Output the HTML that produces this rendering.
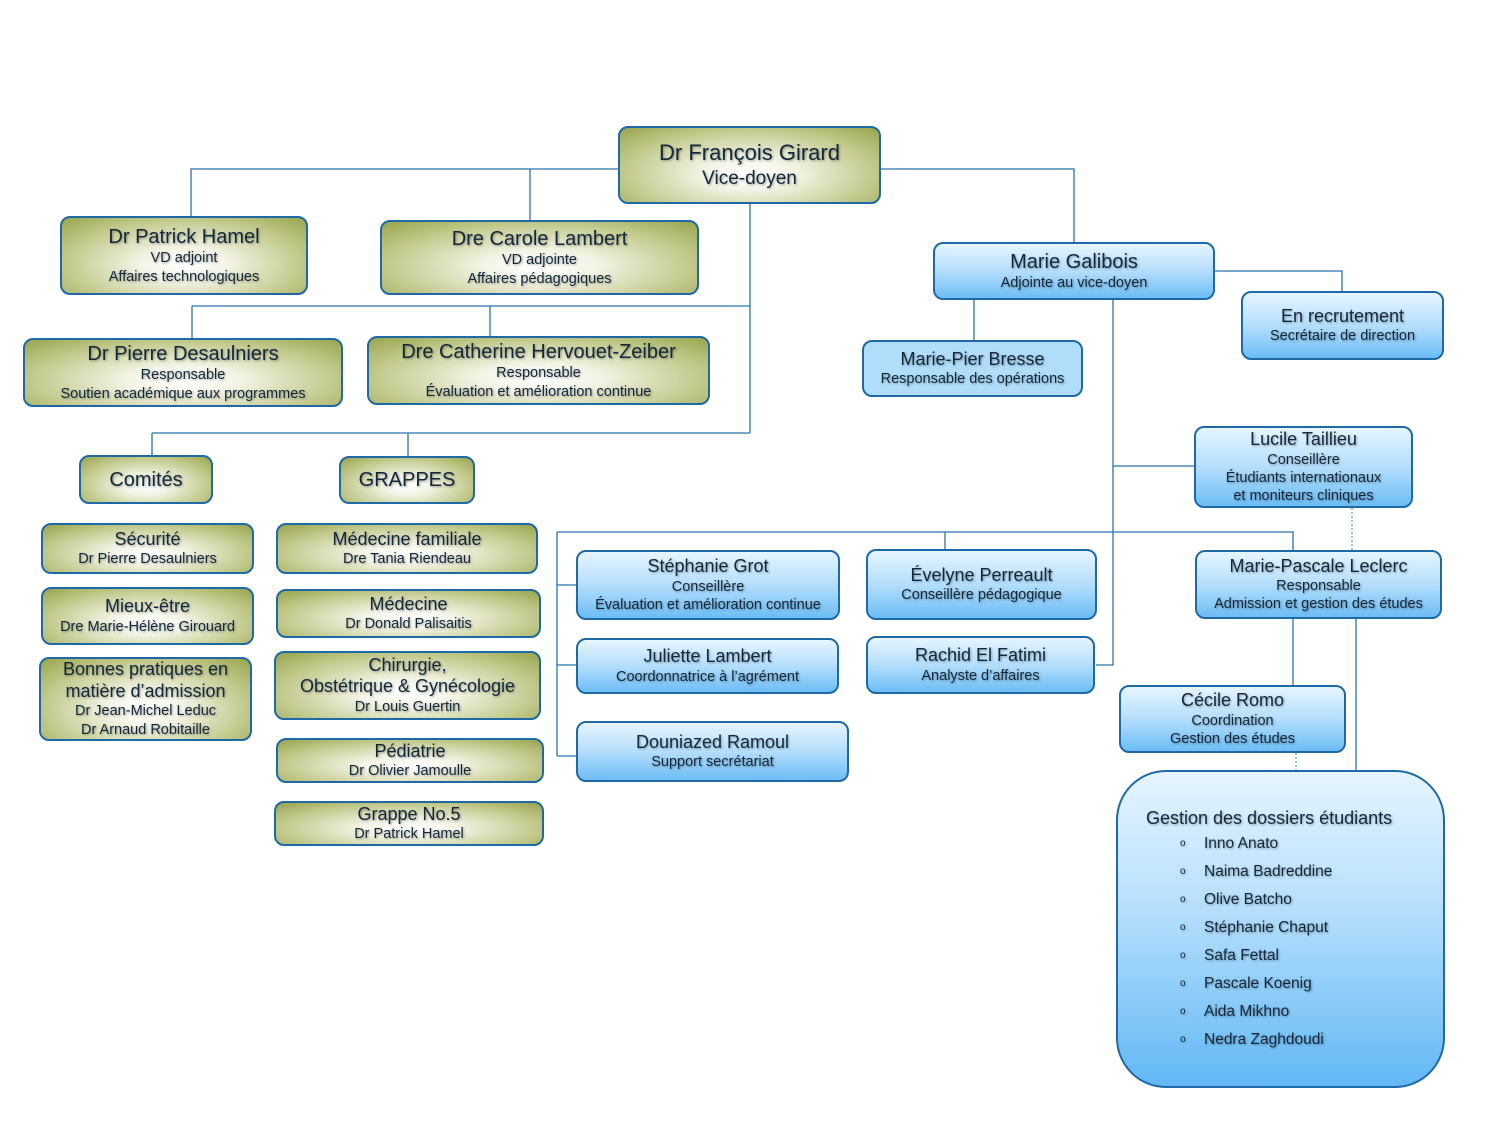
<!DOCTYPE html>
<html><head><meta charset="utf-8"><style>
body{margin:0;width:1500px;height:1125px;background:#fff;position:relative;overflow:hidden;font-family:"Liberation Sans",sans-serif;color:#14283a}
.n{position:absolute;box-sizing:border-box;border:2.5px solid #1f6aa5;border-radius:10px;display:flex;flex-direction:column;justify-content:center;align-items:center;text-align:center;line-height:1.25;text-shadow:1px 1px 2px rgba(0,0,0,.35);font-size:14.5px}
.g{background:radial-gradient(ellipse at 50% 62%,#fff 0%,#f3f4e6 25%,#c2c98c 68%,#98a44c 100%)}
.b{background:linear-gradient(#e6f5ff,#b4defc 50%,#6cbdf5)}
.n b{font-weight:normal;font-size:20px;line-height:1.2}
svg{position:absolute;left:0;top:0}
ul{list-style:none;margin:0;padding:0}
li{height:28px;line-height:28px;overflow:hidden}
li span{font-size:10px;display:inline-block;width:24px;margin-left:34px;vertical-align:top}
</style></head><body>
<svg width="1500" height="1125"><g stroke="#2a73a8" stroke-width="1.3" fill="none">
<path d="M618 169H191V216M530 169V220M881 169H1074V242M750 204V433M192 306H750M192 306V338M490 306V336M152 433H750M152 433V455M408 433V456"/>
<path d="M974 300V340M1215 271H1342V291M1113 300V665H1096M1113 466H1194M557 532H1293V550M945 532V549M557 532V756M557 585H576M557 665H576M557 756H576M1293 619V685M1356 619V770"/>
<path d="M1352 508V550M1296 753V770" stroke-dasharray="2 2" stroke="#5aa7d6"/>
</g></svg>

<div class="n g" style="left:618px;top:126px;width:263px;height:78px;font-size:19px"><b style="font-size:22px;line-height:1.3">Dr François Girard</b>Vice-doyen</div>
<div class="n g" style="left:60px;top:216px;width:248px;height:79px"><b>Dr Patrick Hamel</b>VD adjoint<br>Affaires technologiques</div>
<div class="n g" style="left:380px;top:220px;width:319px;height:75px"><b>Dre Carole Lambert</b>VD adjointe<br>Affaires pédagogiques</div>
<div class="n g" style="left:23px;top:338px;width:320px;height:69px"><b>Dr Pierre Desaulniers</b>Responsable<br>Soutien académique aux programmes</div>
<div class="n g" style="left:367px;top:336px;width:343px;height:69px"><b>Dre Catherine Hervouet-Zeiber</b>Responsable<br>Évaluation et amélioration continue</div>
<div class="n g" style="left:79px;top:455px;width:134px;height:49px"><b>Comités</b></div>
<div class="n g" style="left:339px;top:456px;width:136px;height:48px"><b>GRAPPES</b></div>
<div class="n g" style="left:41px;top:523px;width:213px;height:51px"><b style="font-size:18px">Sécurité</b>Dr Pierre Desaulniers</div>
<div class="n g" style="left:41px;top:587px;width:213px;height:58px"><b style="font-size:18px">Mieux-être</b>Dre Marie-Hélène Girouard</div>
<div class="n g" style="left:39px;top:657px;width:213px;height:84px"><b style="font-size:18px">Bonnes pratiques en<br>matière d’admission</b>Dr Jean-Michel Leduc<br>Dr Arnaud Robitaille</div>
<div class="n g" style="left:276px;top:523px;width:262px;height:51px"><b style="font-size:18px">Médecine familiale</b>Dre Tania Riendeau</div>
<div class="n g" style="left:276px;top:589px;width:265px;height:49px"><b style="font-size:18px">Médecine</b>Dr Donald Palisaitis</div>
<div class="n g" style="left:274px;top:651px;width:267px;height:69px"><b style="font-size:18px">Chirurgie,<br>Obstétrique &amp; Gynécologie</b>Dr Louis Guertin</div>
<div class="n g" style="left:276px;top:738px;width:268px;height:45px"><b style="font-size:18px">Pédiatrie</b>Dr Olivier Jamoulle</div>
<div class="n g" style="left:274px;top:801px;width:270px;height:45px"><b style="font-size:18px">Grappe No.5</b>Dr Patrick Hamel</div>

<div class="n b" style="left:933px;top:242px;width:282px;height:58px"><b>Marie Galibois</b>Adjointe au vice-doyen</div>
<div class="n b" style="left:862px;top:340px;width:221px;height:57px;background:#b0defa"><b style="font-size:18px">Marie-Pier Bresse</b>Responsable des opérations</div>
<div class="n b" style="left:1241px;top:291px;width:203px;height:69px"><b style="font-size:18px">En recrutement</b>Secrétaire de direction</div>
<div class="n b" style="left:1194px;top:426px;width:219px;height:82px"><b style="font-size:18px">Lucile Taillieu</b>Conseillère<br>Étudiants internationaux<br>et moniteurs cliniques</div>
<div class="n b" style="left:576px;top:550px;width:264px;height:70px"><b style="font-size:18px">Stéphanie Grot</b>Conseillère<br>Évaluation et amélioration continue</div>
<div class="n b" style="left:866px;top:549px;width:231px;height:71px"><b style="font-size:18px">Évelyne Perreault</b>Conseillère pédagogique</div>
<div class="n b" style="left:576px;top:638px;width:263px;height:56px"><b style="font-size:18px">Juliette Lambert</b>Coordonnatrice à l’agrément</div>
<div class="n b" style="left:866px;top:636px;width:229px;height:58px"><b style="font-size:18px">Rachid El Fatimi</b>Analyste d’affaires</div>
<div class="n b" style="left:576px;top:721px;width:273px;height:61px"><b style="font-size:18px">Douniazed Ramoul</b>Support secrétariat</div>
<div class="n b" style="left:1195px;top:550px;width:247px;height:69px"><b style="font-size:18px">Marie-Pascale Leclerc</b>Responsable<br>Admission et gestion des études</div>
<div class="n b" style="left:1119px;top:685px;width:227px;height:68px"><b style="font-size:18px">Cécile Romo</b>Coordination<br>Gestion des études</div>

<div class="n b" style="left:1116px;top:770px;width:329px;height:318px;border-radius:50px;justify-content:flex-start;align-items:flex-start;padding:35px 0 0 28px;text-align:left;background:linear-gradient(#e6f5ff,#b4defc 45%,#62b8f5)">
<div style="font-size:18px;margin-bottom:0">Gestion des dossiers étudiants</div>
<ul style="font-size:15.5px">
<li><span>o</span>Inno Anato</li>
<li><span>o</span>Naima Badreddine</li>
<li><span>o</span>Olive Batcho</li>
<li><span>o</span>Stéphanie Chaput</li>
<li><span>o</span>Safa Fettal</li>
<li><span>o</span>Pascale Koenig</li>
<li><span>o</span>Aida Mikhno</li>
<li><span>o</span>Nedra Zaghdoudi</li>
</ul></div>
</body></html>
